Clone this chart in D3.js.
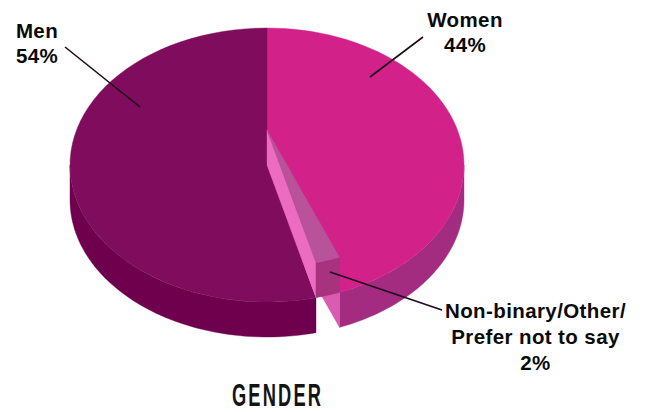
<!DOCTYPE html>
<html><head><meta charset="utf-8">
<script src="https://cdn.jsdelivr.net/npm/d3@7/dist/d3.min.js"></script>
<style>html,body{margin:0;padding:0;background:#fff}svg{display:block}</style>
</head><body><svg id="c" width="646" height="412"></svg>
<script>
const categories = ["Women", "Non-binary/Other/Prefer not to say", "Men"];
const values = [44, 2, 54];
const chartTitle = "GENDER";

const cx = 267, cy = 165, rx = 197, ry = 137, depth = 35, lift = 35;
const colors = {
  womenTop: "#d2228a", womenWall: "#a32c80", womenCut: "#d95cb1",
  menTop: "#7f0c5c", menWall: "#6e004e",
  otherTop: "#b8529b", otherWall: "#a9327f", menCut: "#ec6cc2"
};
const svg = d3.select("#c");
const pie = d3.pie().sort(null).value(d => d)(values);
const [women, other, men] = pie;
const px = a => cx + rx * Math.sin(a), py = (a, dy = 0) => cy + dy - ry * Math.cos(a);
const arcPts = (a0, a1, dy) => d3.range(0, 61).map(i => { const a = a0 + (a1 - a0) * i / 60; return [px(a), py(a, dy)]; });
const line = d3.line();
const poly = (pts, fill) => svg.append("path").attr("d", line(pts) + "Z").attr("fill", fill).attr("stroke", fill).attr("stroke-width", 0.4);
const wall = (a0, a1, d0, d1, fill) => poly(arcPts(a0, a1, d0).concat(arcPts(a0, a1, d1).reverse()), fill);
const sector = (a0, a1, dy, fill) => poly([[cx, cy + dy]].concat(arcPts(a0, a1, dy)), fill);

// women: outer wall, cut face, top
wall(Math.PI / 2, women.endAngle, 0, depth, colors.womenWall);
const we = women.endAngle;
poly([[cx, cy], [px(we), py(we)], [px(we), py(we, depth)], [cx, cy + depth]], colors.womenCut);
sector(women.startAngle, women.endAngle, 0, colors.womenTop);
// men: wall and top
wall(men.startAngle, 3 * Math.PI / 2, 0, depth, colors.menWall);
sector(men.startAngle, men.endAngle, 0, colors.menTop);
// small raised slice
const ma = other.endAngle;
poly([[cx, cy - lift], [cx, cy], [px(ma), py(ma)], [px(ma), py(ma, -lift)]], colors.menCut);
wall(other.startAngle, other.endAngle, -lift, 0, colors.otherWall);
sector(other.startAngle, other.endAngle, -lift, colors.otherTop);

// leader lines
const leaders = [[[65, 47], [140, 107]], [[423, 37], [370, 77]], [[442, 310], [330, 272]]];
leaders.forEach(l => svg.append("path").attr("d", line(l)).attr("stroke", "#1d0a1c").attr("stroke-width", 1.6).attr("fill", "none"));

// labels
const labels = [
  { x: 37, y: 38, lines: [categories[2], values[2] + "%"], lh: 25 },
  { x: 465, y: 27, lines: [categories[0], values[0] + "%"], lh: 25 },
  { x: 535.5, y: 318, lines: ["Non-binary/Other/", "Prefer not to say", values[1] + "%"], lh: 26 }
];
labels.forEach(l => {
  const t = svg.append("text").attr("text-anchor", "middle").attr("font-family", "'Liberation Sans',Arial,sans-serif")
    .attr("font-weight", 700).attr("font-size", 20.5).attr("letter-spacing", 0.4).attr("fill", "#0a0a0a");
  l.lines.forEach((s, i) => t.append("tspan").attr("x", l.x).attr("y", l.y + i * l.lh).text(s));
});
svg.append("text").attr("transform", "translate(277.5,405.5) scale(0.6,1)").attr("text-anchor", "middle")
  .attr("font-family", "'Liberation Sans',Arial,sans-serif").attr("font-weight", 700)
  .attr("font-size", 30.5).attr("letter-spacing", 3.6).attr("fill", "#141414").text(chartTitle);
</script></body></html>
